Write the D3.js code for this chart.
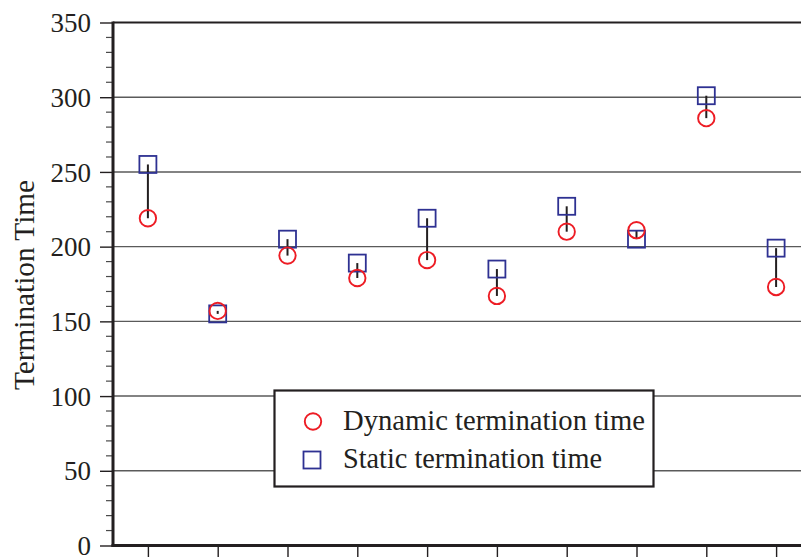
<!DOCTYPE html>
<html>
<head>
<meta charset="utf-8">
<script src="https://cdn.jsdelivr.net/npm/d3@7"></script>
<style>
  html, body { margin: 0; padding: 0; background: #fff; }
  svg { display: block; }
  text { font-family: "Liberation Serif", "Times New Roman", serif; fill: #231f20; }
</style>
</head>
<body>
<svg id="chart" width="801" height="557"></svg>
<script>
// Runs (x positions) and their termination times
const runs = [1, 2, 3, 4, 5, 6, 7, 8, 9, 10];
const dynamicTime = [219, 157, 194, 179, 191, 167, 210, 211, 286, 173];
const staticTime  = [255, 155, 205, 189, 219, 185, 227, 205, 301, 199];
const yTicks = [0, 50, 100, 150, 200, 250, 300, 350];
const yMinorTicks = d3.range(0, 351, 10);
const seriesNames = ["Dynamic termination time", "Static termination time"];
const yTitle = "Termination Time";

const svg = d3.select("#chart");
const plotLeft = 113, plotRight = 811, plotTop = 22.5, plotBottom = 545.5;

const x = d3.scaleLinear().domain([0.5, 10.5]).range([plotLeft, plotRight]);
const y = d3.scaleLinear().domain([0, 350]).range([plotBottom, plotTop]);

const red = "#ed1c24", blue = "#2e3192", ink = "#231f20";

// horizontal grid lines
svg.append("g")
  .selectAll("line")
  .data(yTicks.filter(d => d > 0 && d < 350))
  .join("line")
  .attr("x1", plotLeft).attr("x2", plotRight)
  .attr("y1", d => y(d)).attr("y2", d => y(d))
  .attr("stroke", "#5a5a5a").attr("stroke-width", 1.4);

// top frame line
svg.append("line")
  .attr("x1", plotLeft).attr("x2", plotRight)
  .attr("y1", plotTop).attr("y2", plotTop)
  .attr("stroke", ink).attr("stroke-width", 2.2);

// minor y ticks
svg.append("g")
  .selectAll("line")
  .data(yMinorTicks.filter(d => d % 50 !== 0))
  .join("line")
  .attr("x1", 106).attr("x2", plotLeft)
  .attr("y1", d => y(d)).attr("y2", d => y(d))
  .attr("stroke", "#4a4a4a").attr("stroke-width", 1.2);

// y axis with major ticks and labels
const yAxis = d3.axisLeft(y).tickValues(yTicks).tickSize(13).tickPadding(9);
const gy = svg.append("g").attr("transform", `translate(${plotLeft},0)`).call(yAxis);
gy.select(".domain").remove();
gy.selectAll(".tick line").attr("stroke", ink).attr("stroke-width", 1.4);
gy.selectAll(".tick text")
  .attr("font-family", "Liberation Serif, serif")
  .attr("font-size", 27)
  .attr("fill", ink)
  .attr("dy", "0.34em");

// x axis ticks (no labels)
const xAxis = d3.axisBottom(x).tickValues(runs).tickSize(12).tickFormat(() => "");
const gx = svg.append("g").attr("transform", `translate(0,${plotBottom})`).call(xAxis);
gx.select(".domain").remove();
gx.selectAll(".tick line").attr("stroke", ink).attr("stroke-width", 1.4);

// axis lines
svg.append("line")
  .attr("x1", plotLeft).attr("x2", plotLeft).attr("y1", plotTop - 1).attr("y2", plotBottom + 1.5)
  .attr("stroke", ink).attr("stroke-width", 3);
svg.append("line")
  .attr("x1", plotLeft - 1.5).attr("x2", plotRight).attr("y1", plotBottom).attr("y2", plotBottom)
  .attr("stroke", ink).attr("stroke-width", 3);

// y axis title
svg.append("text")
  .attr("transform", `translate(34,285) rotate(-90)`)
  .attr("text-anchor", "middle")
  .attr("font-size", 30)
  .attr("textLength", 210)
  .attr("lengthAdjust", "spacingAndGlyphs")
  .text(yTitle);

// connectors between the two times of each run
svg.append("g")
  .selectAll("line")
  .data(runs)
  .join("line")
  .attr("x1", (d) => x(d)).attr("x2", (d) => x(d))
  .attr("y1", (d, i) => y(staticTime[i]))
  .attr("y2", (d, i) => y(dynamicTime[i]))
  .attr("stroke", ink).attr("stroke-width", 2);

const sq = 17;
// static markers (squares)
svg.append("g")
  .selectAll("rect")
  .data(runs)
  .join("rect")
  .attr("x", d => x(d) - sq / 2)
  .attr("y", (d, i) => y(staticTime[i]) - sq / 2)
  .attr("width", sq).attr("height", sq)
  .attr("fill", "none").attr("stroke", blue).attr("stroke-width", 1.8);

// dynamic markers (circles)
svg.append("g")
  .selectAll("circle")
  .data(runs)
  .join("circle")
  .attr("cx", d => x(d))
  .attr("cy", (d, i) => y(dynamicTime[i]))
  .attr("r", 8.2)
  .attr("fill", "none").attr("stroke", red).attr("stroke-width", 1.9);

// legend
const lg = svg.append("g");
lg.append("rect")
  .attr("x", 274.5).attr("y", 390.5).attr("width", 379).attr("height", 96)
  .attr("fill", "#fff").attr("stroke", ink).attr("stroke-width", 2.2);
lg.append("circle")
  .attr("cx", 313).attr("cy", 421.5).attr("r", 8.2)
  .attr("fill", "none").attr("stroke", red).attr("stroke-width", 1.9);
lg.append("rect")
  .attr("x", 312 - sq / 2).attr("y", 460 - sq / 2).attr("width", sq).attr("height", sq)
  .attr("fill", "none").attr("stroke", blue).attr("stroke-width", 1.8);
lg.append("text")
  .attr("x", 343).attr("y", 430)
  .attr("font-size", 30)
  .attr("textLength", 302)
  .attr("lengthAdjust", "spacingAndGlyphs")
  .text(seriesNames[0]);
lg.append("text")
  .attr("x", 343).attr("y", 468)
  .attr("font-size", 30)
  .attr("textLength", 259)
  .attr("lengthAdjust", "spacingAndGlyphs")
  .text(seriesNames[1]);
</script>
</body>
</html>
